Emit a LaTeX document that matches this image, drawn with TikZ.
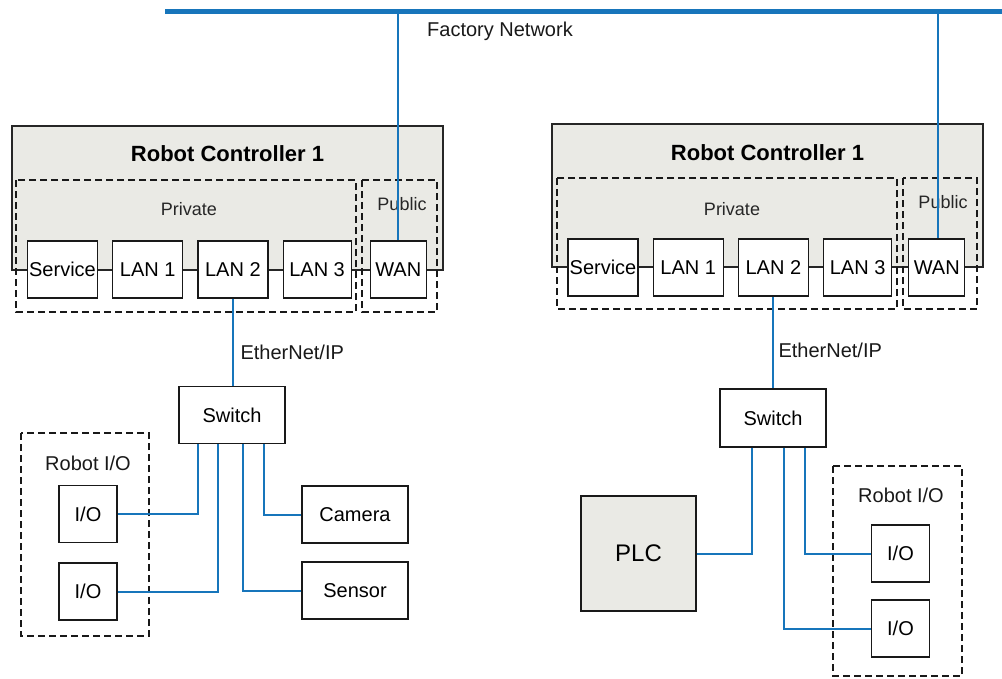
\documentclass[tikz,border=0pt]{standalone}
\usepackage{fontspec}
\setmainfont{Liberation Sans}
\usepackage{xcolor}
\usepackage{tikz}
\usetikzlibrary{positioning}
\definecolor{netblue}{RGB}{23,117,187}
\definecolor{ctrlgray}{RGB}{234,234,229}
\tikzset{
ctrlbox/.style={
draw=black!85,
fill=ctrlgray,
line width=1.2pt,
minimum width=431pt,
minimum height=144pt,
inner sep=0pt
},
port/.style={
draw=black!90,
fill=white,
line width=1.2pt,
minimum width=70pt,
minimum height=57pt,
inner sep=0pt,
font=\fontsize{20}{24}\selectfont
},
device/.style={
port,
minimum width=106pt
},
iobox/.style={
port,
minimum width=58pt
},
zone/.style={
draw=black!90,
line width=1.7pt,
dash pattern=on 7pt off 4pt
},
title/.style={
font=\bfseries\fontsize{22}{26}\selectfont
},
zonelabel/.style={
font=\fontsize{18}{22}\selectfont,
text=black!85
},
txt/.style={
font=\fontsize{20}{24}\selectfont,
text=black!90
},
link/.style={
draw=netblue,
line width=2pt
},
drop/.style={
draw=netblue,
line width=1.5pt
}
}
\begin{document}
\begin{tikzpicture}[x=1pt,y=-1pt,node distance=14pt]
\useasboundingbox (0,0) rectangle (1002,678);

% factory network
\coordinate (busL) at (165,11);
\coordinate (busR) at (1002,11);
\coordinate (tap1) at (398,11);
\coordinate (tap2) at (938,11);
\draw[draw=netblue,line width=5pt](busL)--(busR);
\node[txt](fn) at (500,31){Factory Network};

% controller 1
\node[ctrlbox](rc1) at (227.5,198){};
\node[title](t1) at (227.5,154){Robot Controller 1};
\draw[zone](16,180) rectangle (356,312);
\draw[zone](362,180) rectangle (437,312);
\node[zonelabel](pv1) at (189,209){Private};
\node[zonelabel](pb1) at (402,204){Public};
\node[port](svc1) at (62.5,269.5){Service};
\node[port,right=of svc1](lanA1){LAN 1};
\node[port,right=of lanA1](lanB1){LAN 2};
\node[port,minimum width=68pt,right=of lanB1](lanC1){LAN 3};
\node[port,minimum width=56pt,right=18pt of lanC1](wan1){WAN};

\node[device](sw1) at (232,415){Switch};
\node[txt,anchor=west](eip1) at (237,352){EtherNet/IP};
\draw[zone](21,433) rectangle (149,636);
\node[txt](rio1) at (88,463){Robot I/O};
\node[iobox](ioA1) at (88,514){I/O};
\node[iobox](ioB1) at (88,591.5){I/O};
\node[device](cam1) at (355,514.5){Camera};
\node[device](sen1) at (355,590.5){Sensor};

% controller 2
\node[ctrlbox,minimum height=143pt](rc2) at (767.5,195.5){};
\node[title](t2) at (767.5,153){Robot Controller 1};
\draw[zone](557,178) rectangle (897,309);
\draw[zone](903,178) rectangle (977,309);
\node[zonelabel](pv2) at (732,209){Private};
\node[zonelabel](pb2) at (943,202){Public};
\node[port](svc2) at (603,267.5){Service};
\node[port,right=of svc2](lanA2){LAN 1};
\node[port,right=of lanA2](lanB2){LAN 2};
\node[port,minimum width=68pt,right=of lanB2](lanC2){LAN 3};
\node[port,minimum width=56pt,right=16pt of lanC2](wan2){WAN};

\node[device,minimum height=58pt](sw2) at (773,418){Switch};
\node[txt,anchor=west](eip2) at (775,350){EtherNet/IP};
\node[port,fill=ctrlgray,minimum width=115pt,minimum height=115pt,
font=\fontsize{24}{28}\selectfont](plc) at (638.5,553.5){PLC};
\draw[zone](833,466) rectangle (962,676);
\node[txt](rio2) at (901,495){Robot I/O};
\node[iobox](ioA2) at (900.5,553.5){I/O};
\node[iobox](ioB2) at (900.5,628.5){I/O};

% wiring
\draw[drop](tap1)--(tap1|-wan1.north);
\draw[drop](tap2)--(tap2|-wan2.north);
\foreach \x/\y in {lanB1/sw1,lanB2/sw2}
\draw[link](\x.south)--(\x.south|-\y.north);

\draw[link]([xshift=-34pt]sw1.south)|-(ioA1.east);
\draw[link]([xshift=-14pt]sw1.south)|-(ioB1.east);
\draw[link]([xshift=11pt]sw1.south)|-(sen1.west);
\draw[link]([xshift=32pt]sw1.south)|-(cam1.west);

\draw[link]([xshift=-21pt]sw2.south)|-(plc.east);
\draw[link]([xshift=11pt]sw2.south)|-(ioB2.west);
\draw[link]([xshift=32pt]sw2.south)|-(ioA2.west);
\end{tikzpicture}
\end{document}
